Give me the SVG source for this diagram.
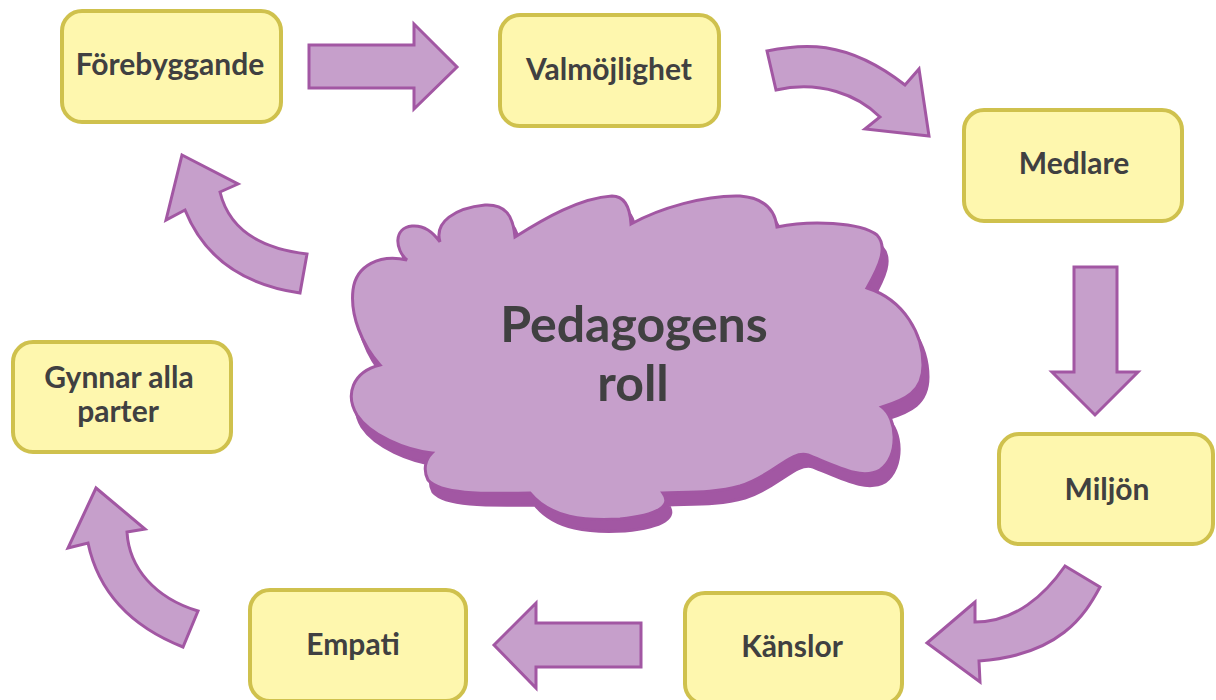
<svg xmlns="http://www.w3.org/2000/svg" width="1216" height="700" viewBox="0 0 1216 700">
<style>
.box{fill:#fef7ae;stroke:#cfc14d;stroke-width:4}
.lbl{font-family:Lato,"Open Sans","Liberation Sans",sans-serif;font-weight:700;font-size:30px;fill:#404041;text-anchor:middle}
.arr{fill:#c69fcb;stroke:#a257a3;stroke-width:3;stroke-linejoin:miter}
.cloud{fill:#c69fcb;stroke:#a257a3;stroke-width:3}
.shadow{fill:#a257a3;stroke:#a257a3;stroke-width:3}
.big{font-family:Lato,"Open Sans","Liberation Sans",sans-serif;font-weight:700;font-size:50px;fill:#404041;text-anchor:middle}
</style>
<defs>
<path id="cloudPath" d="M407,260 C395,250 393,228 412,226 C423,225 433,232 440,242 C434,222 455,208 485,205 C505,204 513,215 515,237 C545,218 580,198 612,196 C625,196 630,208 631,224 C660,208 705,195 740,196 C765,198 775,210 777,227 C810,220 860,222 877,235 C888,247 880,265 867,288 C905,300 923,335 923,365 C923,392 905,400 882,407 C897,418 900,455 880,470 C862,480 840,468 808,455 C790,450 775,475 740,486 C715,493 690,492 663,493 C672,505 660,515 620,519 C585,521 550,518 530,493 C480,494 440,494 428,480 C423,470 425,460 432,453 C405,450 370,435 357,415 C345,395 352,372 380,365 C362,345 350,315 353,290 C356,265 380,254 407,260 Z"/>
</defs>
<g id="connectors">
<path class="arr" d="M309,45 L414,45 L414,24 L457,67 L414,109 L414,88 L309,88 Z"/>
<path class="arr" d="M767,51 C800,44 845,38 905,85 L919,69 L929,136 L865,129 L880,117 C858,95 820,80 776,90 Z"/>
<path class="arr" d="M1074,267 L1117,267 L1117,372 L1138,372 L1095,415 L1052,372 L1074,372 Z"/>
<path class="arr" d="M1065,566 L1100,587 C1085,615 1060,655 979,661 L980,682 L927,643 L975,602 L975,622 C1015,622 1045,595 1065,566 Z"/>
<path class="arr" d="M494,645 L536,603 L536,623 L641,623 L641,667 L536,667 L536,688 Z"/>
<path class="arr" d="M96,488 L145,529 L127,532 C129,568 155,598 198,611 L183,647 C140,630 100,600 88,543 L68,548 Z"/>
<path class="arr" d="M182,155 L238,184 L220,192 C228,225 255,248 307,254 L300,293 C245,285 205,260 185,210 L166,220 Z"/>
</g>
<g id="center">
<use href="#cloudPath" class="shadow" transform="translate(5,12)"/>
<use href="#cloudPath" class="cloud"/>
<text class="big" x="634" y="342">Pedagogens</text>
<text class="big" x="633" y="401">roll</text>
</g>
<g id="n-forebyggande">
<rect class="box" x="62" y="11" width="219" height="111" rx="20"/>
<text class="lbl" x="170" y="75">Förebyggande</text>
</g>
<g id="n-valmojlighet">
<rect class="box" x="500" y="15" width="219" height="111" rx="20"/>
<text class="lbl" x="609" y="80">Valmöjlighet</text>
</g>
<g id="n-medlare">
<rect class="box" x="964" y="110" width="218" height="111" rx="20"/>
<text class="lbl" x="1074" y="174">Medlare</text>
</g>
<g id="n-miljon">
<rect class="box" x="999" y="434" width="214" height="110" rx="20"/>
<text class="lbl" x="1107" y="500">Miljön</text>
</g>
<g id="n-kanslor">
<rect class="box" x="685" y="593" width="217" height="111" rx="20"/>
<text class="lbl" x="792" y="657">Känslor</text>
</g>
<g id="n-empati">
<rect class="box" x="250" y="590" width="216" height="111" rx="20"/>
<text class="lbl" x="353" y="655">Empati</text>
</g>
<g id="n-gynnar">
<rect class="box" x="13" y="342" width="218" height="110" rx="20"/>
<text class="lbl" x="119" y="388">Gynnar alla</text>
<text class="lbl" x="118" y="422">parter</text>
</g>
</svg>
